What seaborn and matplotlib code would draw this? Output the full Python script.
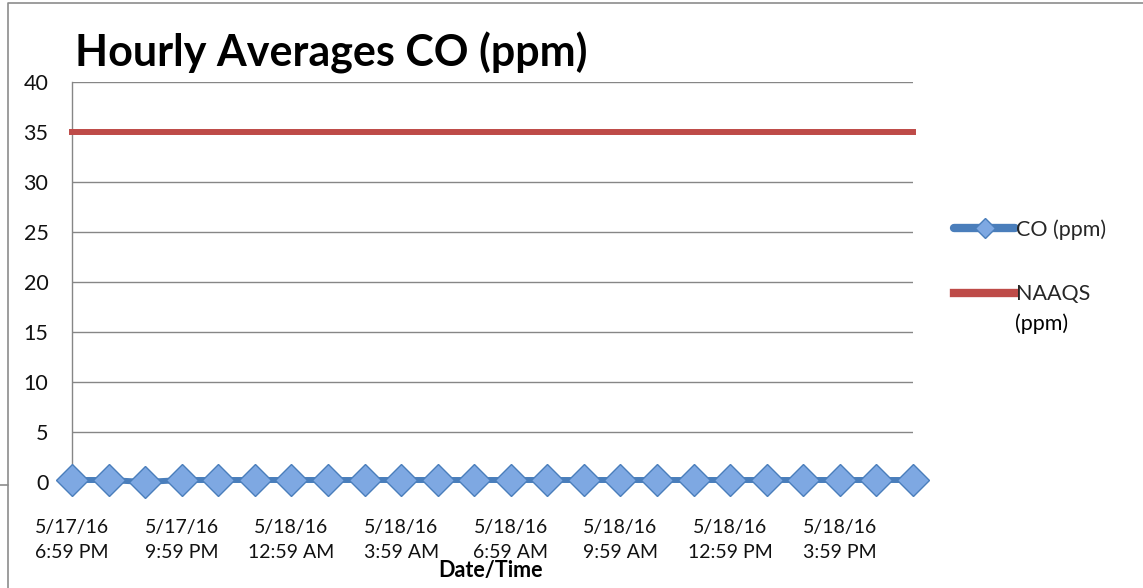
import pandas as pd
import matplotlib.pyplot as plt
import matplotlib.lines as mlines
import seaborn as sns

# Hourly readings, 5/17/16 6:59 PM -> 5/18/16 5:59 PM
hours = list(range(24))
co_ppm = [0.2, 0.2, 0.0, 0.2, 0.2, 0.2, 0.2, 0.2, 0.2, 0.2, 0.2, 0.2,
          0.2, 0.2, 0.2, 0.2, 0.2, 0.2, 0.2, 0.2, 0.2, 0.2, 0.2, 0.2]
naaqs_ppm = [35] * 24

tick_pos = [0, 3, 6, 9, 12, 15, 18, 21]
tick_labels = ["5/17/16\n6:59 PM", "5/17/16\n9:59 PM", "5/18/16\n12:59 AM",
               "5/18/16\n3:59 AM", "5/18/16\n6:59 AM", "5/18/16\n9:59 AM",
               "5/18/16\n12:59 PM", "5/18/16\n3:59 PM"]
y_ticks = [0, 5, 10, 15, 20, 25, 30, 35, 40]

df = pd.DataFrame({"hour": hours, "co": co_ppm, "naaqs": naaqs_ppm})

sns.set_style("white")
plt.rcParams['font.family'] = ['Lato', 'DejaVu Sans']

fig = plt.figure(figsize=(11.43, 5.88), dpi=100)
ax = fig.add_axes([72 / 1143, 1 - 482 / 588, (913 - 72) / 1143, 400 / 588])

sns.lineplot(data=df, x="hour", y="co", ax=ax, color="#4a7ebb", linewidth=4.3,
             marker="D", markersize=16, markerfacecolor="#7ea8e2",
             markeredgecolor="#4a7ebb", markeredgewidth=1.0,
             label="CO (ppm)", zorder=4, clip_on=False)
sns.lineplot(data=df, x="hour", y="naaqs", ax=ax, color="#be4b48", linewidth=4.3,
             label="NAAQS", zorder=3, clip_on=False,
             solid_capstyle="projecting")

ax.set_xlim(0, 23)
ax.set_ylim(0, 40)
ax.set_yticks(y_ticks)
ax.set_xticks(tick_pos)
ax.set_xticklabels(tick_labels, fontsize=14, color="#111111", linespacing=1.5)
ax.tick_params(axis="y", labelsize=15.5, colors="#111111", length=6,
               color="#868686", width=1, direction="out", pad=11)
ax.tick_params(axis="x", length=0, pad=27)
ax.yaxis.grid(True, color="#868686", linewidth=1)
ax.xaxis.grid(False)
for side in ["top", "right", "bottom"]:
    ax.spines[side].set_visible(False)
ax.spines["left"].set_color("#868686")
ax.spines["left"].set_linewidth(1)

ax.set_ylabel("")
ax.set_xlabel("")
fig.text(490 / 1143, 1 - 570 / 588, "Date/Time", fontsize=15.5, fontweight="bold",
         ha="center", va="center", color="#000000")

fig.text(75 / 1143, 1 - 67 / 588, "Hourly Averages CO (ppm)", fontsize=31,
         fontweight="bold", ha="left", va="baseline", color="#000000")

leg = ax.legend(loc="upper left", bbox_to_anchor=(935 / 1143, 1 - 200 / 588),
                bbox_transform=fig.transFigure, frameon=False, fontsize=15.5,
                handlelength=2.8, handletextpad=0.05, labelspacing=2.05)
for h in leg.get_lines():
    h.set_linewidth(6)
    h.set_markersize(10)
# second line of the NAAQS legend label
fig.text(1015 / 1143, 1 - 324 / 588, "(ppm)", fontsize=15.5, ha="left",
         va="center", color="#000000")

# chart frame like the spreadsheet border
fig.add_artist(mlines.Line2D([8 / 1143, 8 / 1143, 1], [0, 1 - 3 / 588, 1 - 3 / 588],
                             transform=fig.transFigure, color="#8c8c8c", linewidth=1.2))
fig.add_artist(mlines.Line2D([0, 8 / 1143], [1 - 485 / 588, 1 - 485 / 588],
                             transform=fig.transFigure, color="#8c8c8c", linewidth=1.2))

fig.savefig("out.png", dpi=100)
